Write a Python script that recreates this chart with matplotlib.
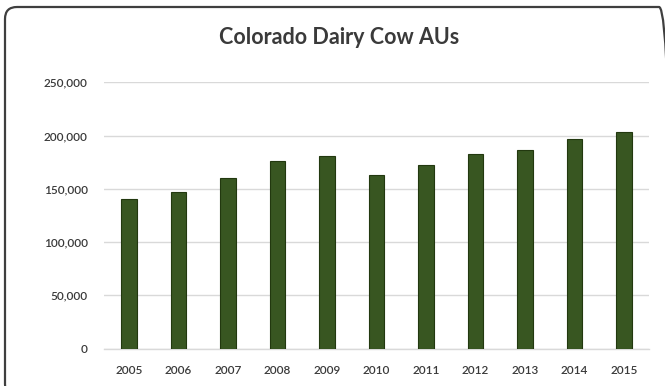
import matplotlib
matplotlib.use("Agg")
import matplotlib.pyplot as plt
from matplotlib.patches import FancyBboxPatch
from matplotlib.ticker import FuncFormatter

years = ["2005", "2006", "2007", "2008", "2009", "2010",
         "2011", "2012", "2013", "2014", "2015"]
animal_units = [140000, 147000, 160000, 176000, 181000, 163000,
                172000, 183000, 186000, 197000, 203000]
y_ticks = [0, 50000, 100000, 150000, 200000, 250000]

W, H = 665, 386
DPI = 100
fig = plt.figure(figsize=(W / DPI, H / DPI), dpi=DPI)
fig.patch.set_facecolor("white")

# rounded chart frame, laid out in inches (pixels / dpi)
left_px, top_px, right_px, bottom_px = 5, 7, 671, 396
frame = FancyBboxPatch((left_px / DPI, (H - bottom_px) / DPI),
                       (right_px - left_px) / DPI, (bottom_px - top_px) / DPI,
                       boxstyle="round,pad=0,rounding_size=0.12",
                       transform=fig.dpi_scale_trans, facecolor="none",
                       edgecolor="#3f3f3f", linewidth=1.6, clip_on=False)
fig.patches.append(frame)

ax = fig.add_axes([104.25 / W, 37.5 / H, 544.5 / W, 266.2 / H])
x = range(len(years))
ax.bar(x, animal_units, width=0.32, color="#385621",
       edgecolor="#22380f", linewidth=0.8, zorder=3)

ax.set_xlim(-0.5, len(years) - 0.5)
ax.set_ylim(0, 250000)
ax.set_yticks(y_ticks)
ax.yaxis.set_major_formatter(FuncFormatter(lambda v, p: f"{int(v):,}"))
ax.set_xticks(list(x))
ax.set_xticklabels(years)

ax.grid(axis="y", color="#d9d9d9", linewidth=1.0, zorder=0)
for s in ["top", "right", "left"]:
    ax.spines[s].set_visible(False)
ax.spines["bottom"].set_color("#d9d9d9")
ax.spines["bottom"].set_linewidth(1.0)
ax.tick_params(axis="both", length=0, labelsize=8.5, colors="#3a3a3a")
ax.tick_params(axis="y", pad=12)
ax.tick_params(axis="x", pad=12)
for lbl in ax.get_xticklabels() + ax.get_yticklabels():
    lbl.set_family("Lato")
    lbl.set_fontweight("semibold")

fig.text(339 / W, 1 - 38 / H, "Colorado Dairy Cow AUs", ha="center",
         va="center", fontsize=15.5, family="Lato", fontweight="bold",
         color="#3a3a3a")

fig.savefig("out.png", dpi=DPI, facecolor="white")
